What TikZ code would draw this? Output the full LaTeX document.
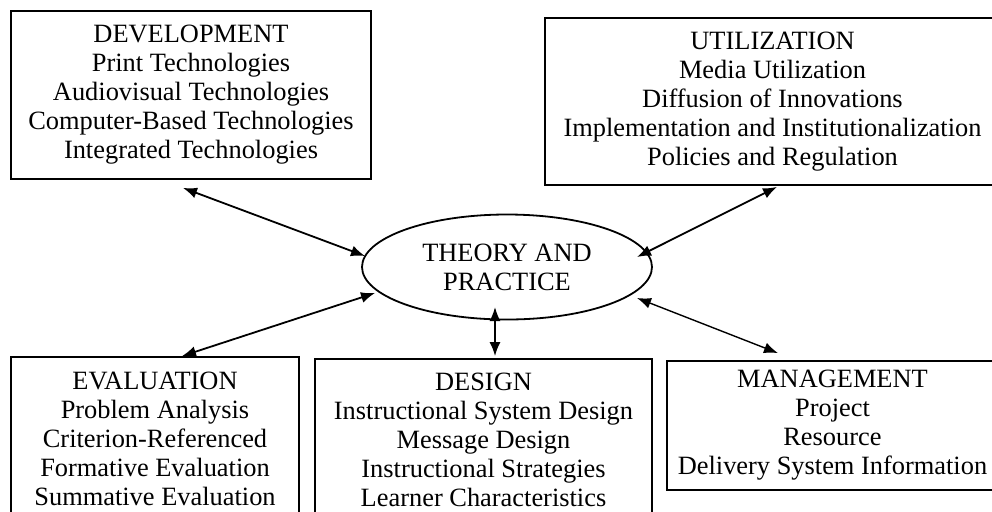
\documentclass[tikz,border=0pt]{standalone}
\usepackage{fontspec}
\setmainfont{Liberation Serif}
\usetikzlibrary{arrows.meta,shapes.geometric}
\tikzset{
    area/.style={draw, rectangle, line width=0.9pt, inner sep=0pt, align=center,
        font=\fontsize{13.2}{14.5}\selectfont},
    core/.style={draw, ellipse, line width=0.9pt, inner sep=0pt, align=center,
        minimum width=145pt, minimum height=52.5pt, font=\fontsize{13.2}{14.5}\selectfont},
    link/.style={{Latex[length=7pt,width=5.5pt]}-{Latex[length=7pt,width=5.5pt]}, line width=0.9pt}
}
\begin{document}
\begin{tikzpicture}[x=0.5pt,y=-0.5pt]
        \useasboundingbox (0,0) rectangle (992,511);
        \clip (0,0) rectangle (992,511);
        % centre
        \node[core] (theory) at (507,267) {THEORY AND\\PRACTICE};
        % domains
        \node[area, minimum width=180pt, minimum height=84pt] (dev) at (191,95)
            {DEVELOPMENT\\Print Technologies\\Audiovisual Technologies\\Computer-Based Technologies\\Integrated Technologies};
        \node[area, minimum width=227.5pt, minimum height=83.5pt] (util) at (772.5,101.5)
            {UTILIZATION\\Media Utilization\\Diffusion of Innovations\\Implementation and Institutionalization\\Policies and Regulation};
        \node[area, minimum width=144pt, minimum height=81.5pt] (eval) at (155,438.5)
            {EVALUATION\\Problem Analysis\\Criterion-Referenced\\Formative Evaluation\\Summative Evaluation};
        \node[area, minimum width=168.5pt, minimum height=80.5pt] (design) at (483.5,439.5)
            {DESIGN\\Instructional System Design\\Message Design\\Instructional Strategies\\Learner Characteristics};
        \node[area, minimum width=165.5pt, minimum height=64.5pt] (mgmt) at (832.5,425.5)
            {MANAGEMENT\\Project\\Resource\\Delivery System Information};
        % links
        \draw[link] ([shift={(-8,8)}]dev.south) -- ([shift={(-142,-11)}]theory.center);
        \draw[link] ([shift={(4.5,1)}]util.south) -- ([shift={(130,-10)}]theory.center);
        \draw[link] ([shift={(27,0)}]eval.north) -- ([shift={(-132,26)}]theory.center);
        \draw[link] ([shift={(-12,40)}]theory.center) -- ([shift={(11.5,-2)}]design.north);
        \draw[link, line width=0.7pt] ([shift={(130,31)}]theory.center) -- ([shift={(-54.5,-7)}]mgmt.north);
    \end{tikzpicture}
\end{document}
